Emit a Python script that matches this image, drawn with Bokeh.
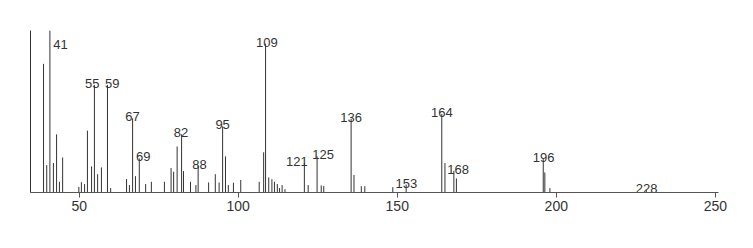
from bokeh.plotting import figure
from bokeh.models import Range1d, FixedTicker, ColumnDataSource
from bokeh.core.properties import value
from bokeh.embed import file_html
from bokeh.resources import INLINE

# m/z positions and relative intensities (%)
mz = [38.8, 39.8, 40.8, 41.9, 42.9, 43.8, 44.8, 49.9, 50.7, 51.7, 52.6, 53.9,
      54.8, 55.8, 57.0, 58.9, 59.9, 64.9, 65.8, 66.8, 67.7, 68.9, 70.9, 72.7,
      76.8, 78.9, 79.7, 80.8, 82.2, 82.8, 85.0, 86.7, 87.4, 90.7, 92.8, 94.0,
      95.1, 96.0, 96.9, 98.5, 100.8, 106.6, 108.0, 108.6, 109.6, 110.6, 111.4,
      112.3, 113.0, 113.8, 114.7, 120.8, 122.0, 124.8, 126.1, 126.9, 135.5,
      136.4, 138.7, 139.8, 148.6, 152.8, 164.0, 165.0, 167.8, 168.6, 195.9,
      196.4, 198.0, 228.3]
intensity = [79.4, 16.9, 100.0, 18.2, 35.9, 6.6, 21.6, 3.4, 6.4, 5.2, 38.2, 16.1,
             66.4, 11.3, 15.5, 66.4, 2.7, 8.3, 4.6, 45.8, 10.1, 21.0, 5.2, 6.6,
             6.6, 15.1, 12.8, 28.4, 35.9, 13.2, 6.6, 4.6, 16.5, 6.2, 11.3, 6.2,
             40.8, 22.3, 4.6, 6.0, 7.7, 6.6, 24.8, 91.8, 9.3, 8.2, 6.6,
             5.2, 2.7, 4.6, 2.0, 18.2, 4.6, 22.3, 4.4, 4.0, 45.4,
             10.8, 3.9, 3.9, 3.3, 4.9, 48.5, 18.2, 13.4, 8.7, 20.6,
             12.4, 2.7, 1.5]

peak_labels = ["41", "55", "59", "67", "69", "82", "88", "95", "109", "121",
               "125", "136", "153", "164", "168", "196", "228"]
x_ticks = [50, 100, 150, 200, 250]

# label nudges in screen pixels (style only)
label_dx = [3.4, -2.3, 4.7, 0, 4, -0.7, 1.3, 0, 1.3, -7.4, 6.1, 0, 0.3, 0, 4.2, 0.3, 0.4]

ink = "#333333"
font = "Liberation Sans"

p = figure(width=753, height=248, output_backend="svg", toolbar_location=None,
           x_range=Range1d(34.7, 251.0), y_range=Range1d(0, 100),
           min_border_left=30, min_border_right=35, min_border_top=30,
           min_border_bottom=56)
p.outline_line_color = None
p.background_fill_color = "white"
p.border_fill_color = "white"
p.xgrid.visible = False
p.ygrid.visible = False

p.segment(x0=mz, y0=[0] * len(mz), x1=mz, y1=intensity, line_color=ink, line_width=1)

# labels placed at the tallest peak within one unit of the labelled m/z
lx, ly, lal, lxo, lyo = [], [], [], [], []
for t, dx in zip(peak_labels, label_dx):
    target = int(t)
    near = [k for k in range(len(mz)) if abs(mz[k] - target) <= 1.0]
    i = max(near, key=lambda k: intensity[k])
    lx.append(mz[i])
    ly.append(intensity[i])
    if intensity[i] >= 99:
        lal.append("left")
        lyo.append(14.3)
    else:
        lal.append("center")
        lyo.append(-1.5)
    lxo.append(dx)

src = ColumnDataSource(dict(x=lx, y=ly, text=peak_labels, align=lal, xo=lxo, yo=lyo))
p.text(x="x", y="y", text="text", source=src, text_align="align",
       text_baseline="alphabetic", x_offset="xo", y_offset="yo",
       text_font=value(font), text_font_size="13px", text_color=ink)

xa = p.xaxis[0]
xa.ticker = FixedTicker(ticks=x_ticks)
xa.axis_line_color = "#555555"
xa.axis_line_width = 1
xa.major_tick_line_color = "#555555"
xa.major_tick_out = 5
xa.major_tick_in = 0
xa.minor_tick_line_color = None
xa.major_label_text_font = font
xa.major_label_text_font_size = "14px"
xa.major_label_text_color = ink
xa.major_label_standoff = 3

ya = p.yaxis[0]
ya.axis_line_color = ink
ya.major_tick_line_color = None
ya.minor_tick_line_color = None
ya.major_label_text_font_size = "0px"
ya.major_label_text_color = None

open("out.html", "w").write(file_html(p, INLINE))
